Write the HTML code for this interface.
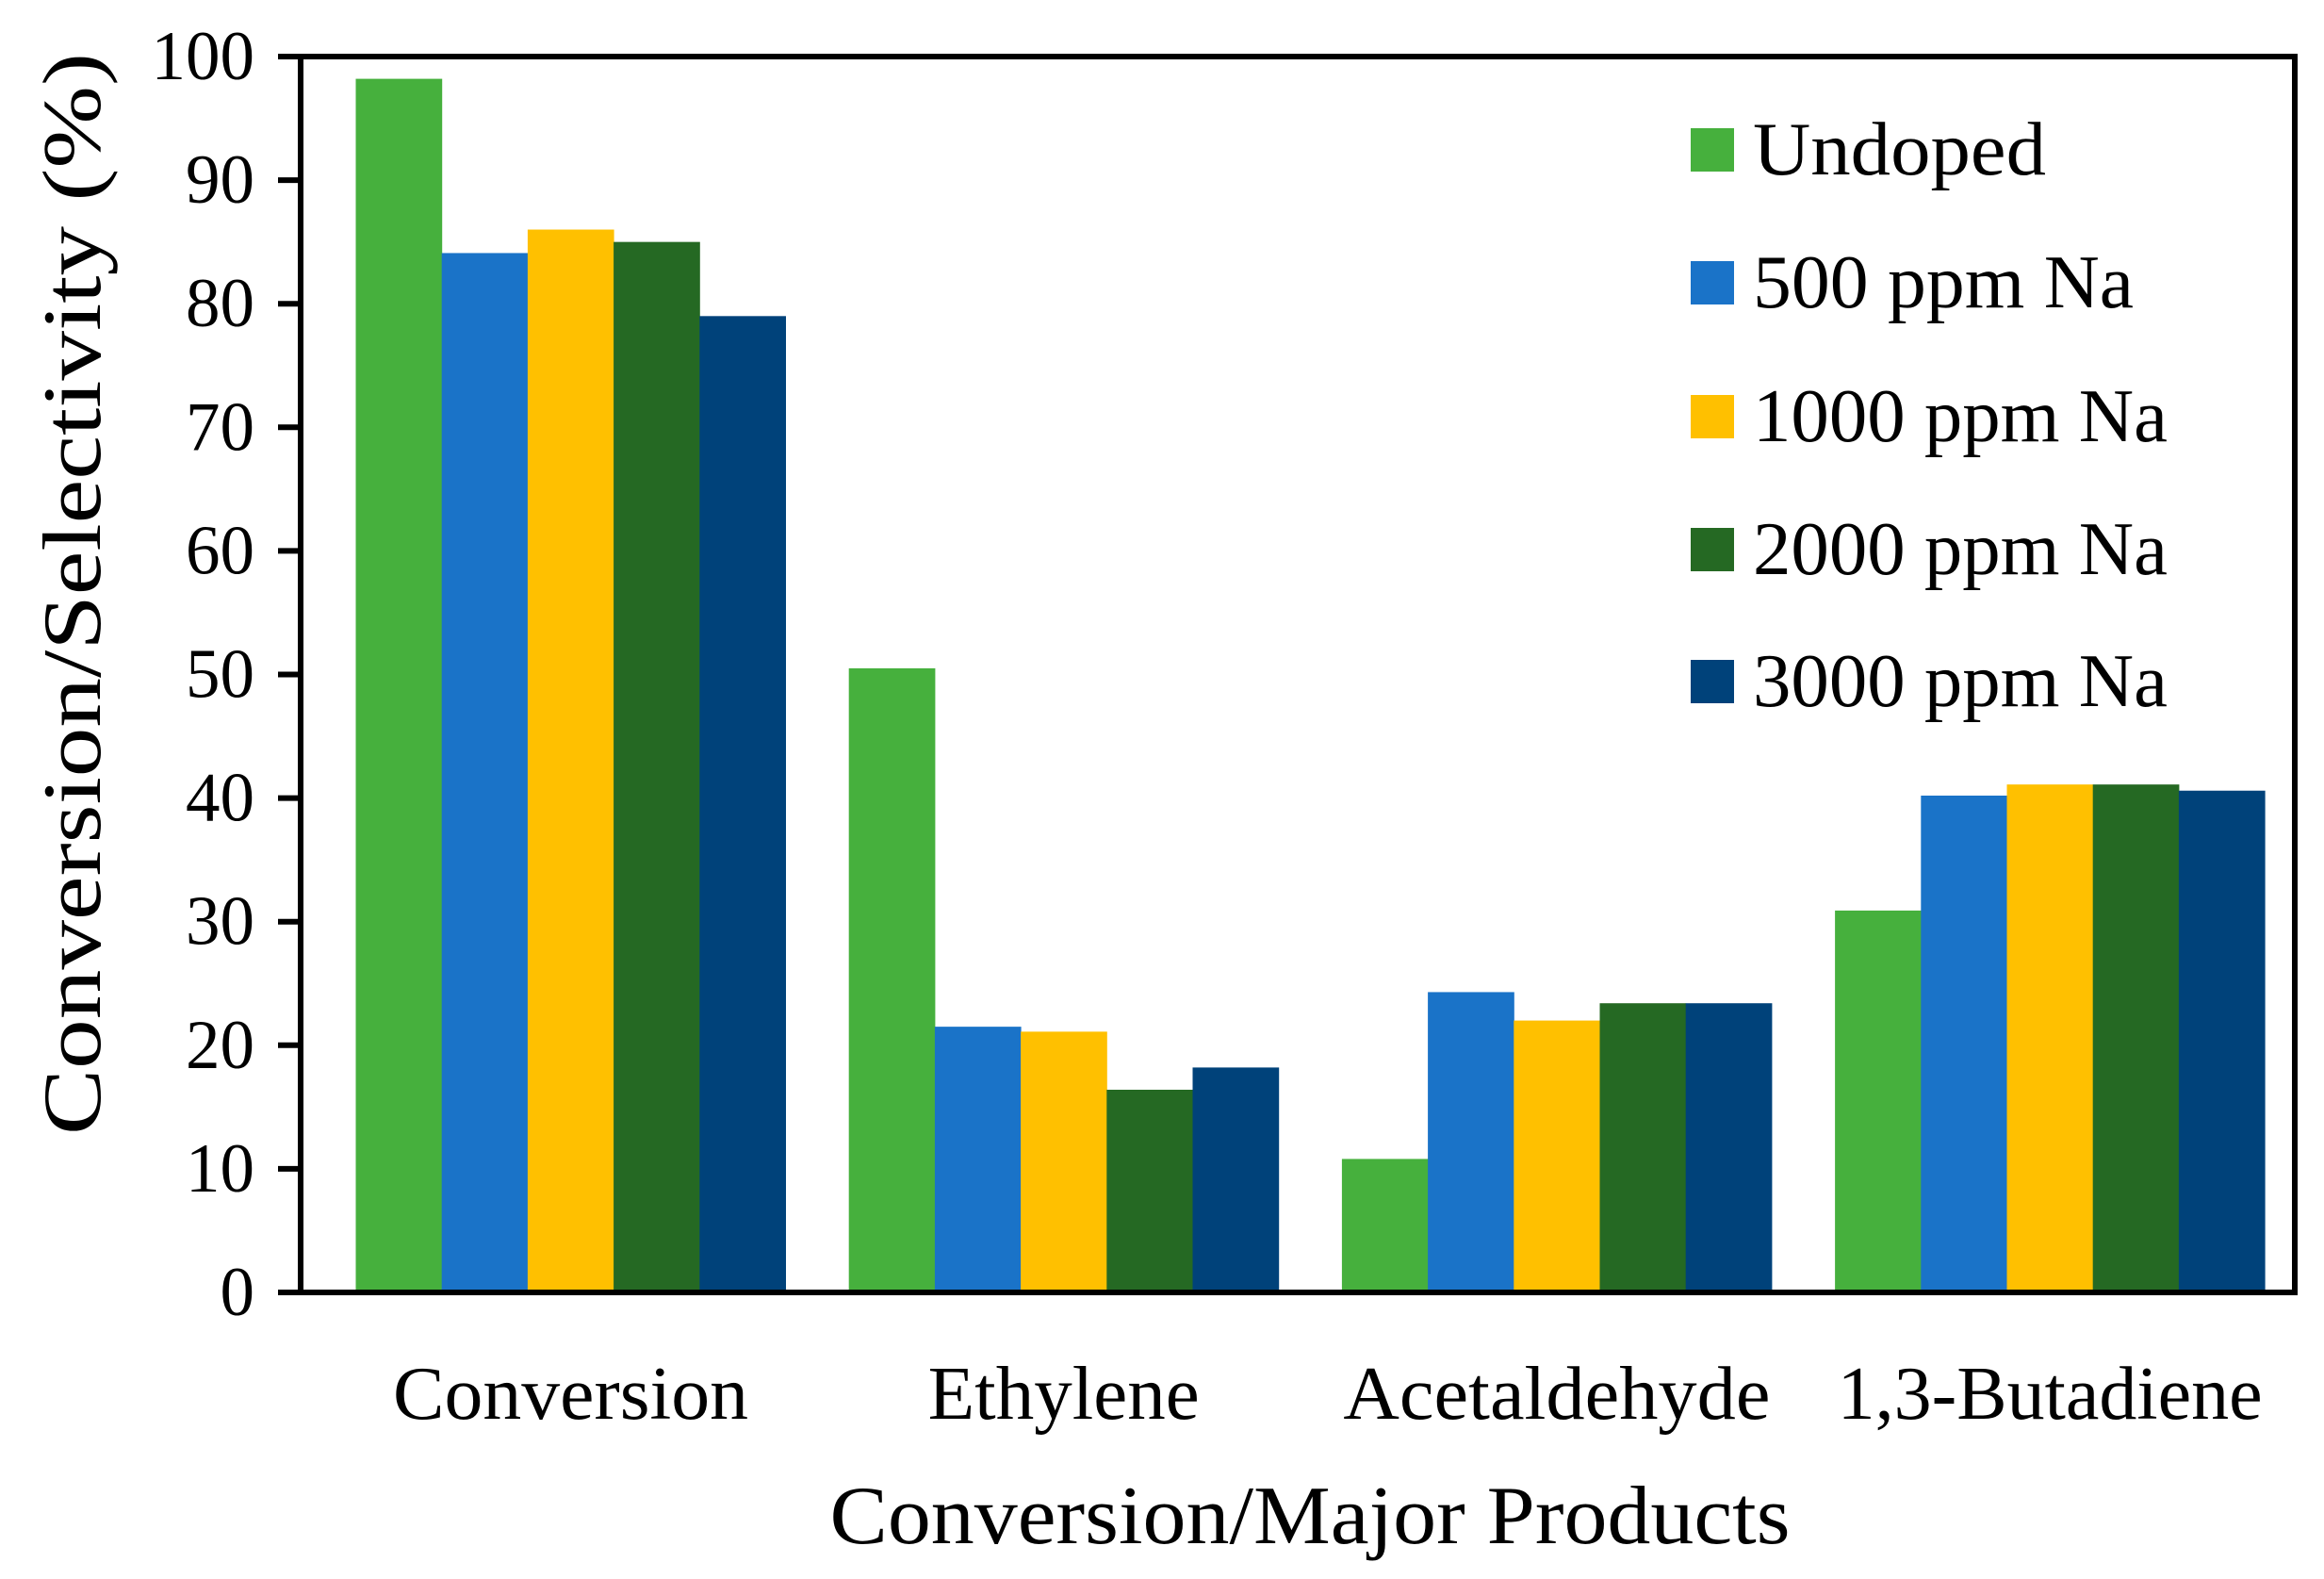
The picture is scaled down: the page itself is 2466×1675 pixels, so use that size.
<!DOCTYPE html>
<html><head><meta charset="utf-8"><style>
html,body{margin:0;padding:0;background:#fff;}
svg{display:block;font-family:"Liberation Serif",serif;}
</style></head><body>
<svg id="chart" width="2466" height="1675" viewBox="0 0 2466 1675" xmlns="http://www.w3.org/2000/svg">
<g id="bars"></g>
<g id="axes"></g>
<g id="legend"></g>
<text transform="translate(106,630) rotate(-90)" text-anchor="middle" font-size="88" textLength="1148" lengthAdjust="spacingAndGlyphs">Conversion/Selectivity (%)</text>
<text x="1390" y="1637" text-anchor="middle" font-size="88" textLength="1019" lengthAdjust="spacingAndGlyphs">Conversion/Major Products</text>
</svg>
<script>
const categories = ["Conversion", "Ethylene", "Acetaldehyde", "1,3-Butadiene"];
const seriesNames = ["Undoped", "500 ppm Na", "1000 ppm Na", "2000 ppm Na", "3000 ppm Na"];
const undoped = [98.2, 50.5, 10.8, 30.9];
const na500 = [84.1, 21.5, 24.3, 40.2];
const na1000 = [86.0, 21.1, 22.0, 41.1];
const na2000 = [85.0, 16.4, 23.4, 41.1];
const na3000 = [79.0, 18.2, 23.4, 40.6];
const yTicks = [0, 10, 20, 30, 40, 50, 60, 70, 80, 90, 100];

const series = [undoped, na500, na1000, na2000, na3000];
const colors = ["#46b03d", "#1a73c8", "#ffc000", "#256923", "#00427a"];
const catLen = [377, 288, 453, 451];
const legLen = [311, 404, 440, 440, 440];
const NS = "http://www.w3.org/2000/svg";
const L = 319, R = 2435, T = 60, B = 1371;
const yMin = 0, yMax = 100;
function y(v){ return B - (v - yMin) / (yMax - yMin) * (B - T); }
const groupStart = 377.5, groupPitch = 523.2, barW = 91.2;
function x(ci, si){ return groupStart + ci * groupPitch + si * barW; }
function mk(tag, attrs, parent){ const e = document.createElementNS(NS, tag); for (const k in attrs) e.setAttribute(k, attrs[k]); parent.appendChild(e); return e; }

const bars = document.getElementById('bars');
series.forEach((vals, si) => {
  vals.forEach((v, ci) => {
    const r = mk('rect', {x: x(ci, si), y: y(v), width: barW + 0.5, height: y(0) - y(v), fill: colors[si]}, bars);
    
    
  });
});

const axes = document.getElementById('axes');
const frame = mk('rect', {x: L, y: T, width: R - L, height: B - T, fill: 'none', stroke: '#000', 'stroke-width': 6}, axes);


yTicks.forEach(t => {
  const ln = mk('line', {x1: L - 24, x2: L, y1: y(t), y2: y(t), stroke: '#000', 'stroke-width': 6}, axes);
  
  
  const s = String(t);
  const tx = mk('text', {x: 270, y: y(t) + 24, 'text-anchor': 'end', 'font-size': 74, textLength: s.length * 36.5, lengthAdjust: 'spacingAndGlyphs'}, axes);
  tx.textContent = s;
  
  
});
categories.forEach((c, ci) => {
  const cx = x(ci, 0) + barW * 2.5;
  const tx = mk('text', {x: cx, y: 1505, 'text-anchor': 'middle', 'font-size': 80, textLength: catLen[ci], lengthAdjust: 'spacingAndGlyphs'}, axes);
  tx.textContent = c;
  
  
});

const legend = document.getElementById('legend');
const legY = [159, 300, 442, 583, 723];
seriesNames.forEach((n, i) => {
  const g = mk('g', {}, legend);
  
  
  mk('rect', {x: 1794, y: legY[i] - 23, width: 46, height: 46, fill: colors[i]}, g);
  const tx = mk('text', {x: 1860, y: legY[i] + 26, 'font-size': 80, textLength: legLen[i], lengthAdjust: 'spacingAndGlyphs'}, g);
  tx.textContent = n;
});
</script>
</body></html>
